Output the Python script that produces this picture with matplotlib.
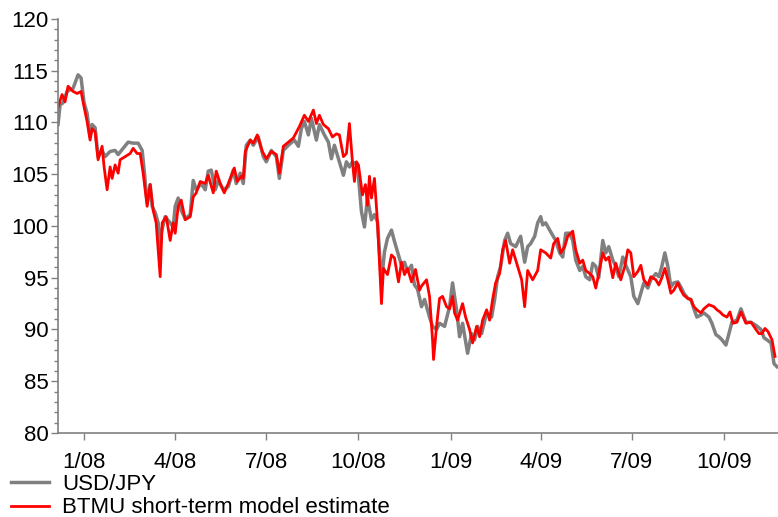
import pandas as pd
import matplotlib
matplotlib.use("Agg")
import matplotlib.pyplot as plt
import matplotlib.dates as mdates
from matplotlib.ticker import MultipleLocator, FuncFormatter

plt.rcParams['font.family'] = ['Liberation Sans', 'DejaVu Sans']

# USD/JPY spot
usdjpy_dates = [
    "2007-12-06", "2007-12-08", "2007-12-11", "2007-12-15", "2007-12-21", "2007-12-26", "2007-12-29",
    "2008-01-01", "2008-01-04", "2008-01-07", "2008-01-09", "2008-01-12", "2008-01-15", "2008-01-19",
    "2008-01-22", "2008-01-27", "2008-02-01", "2008-02-04", "2008-02-09", "2008-02-14", "2008-02-19",
    "2008-02-24", "2008-02-28", "2008-03-01", "2008-03-04", "2008-03-07", "2008-03-09", "2008-03-12",
    "2008-03-15", "2008-03-17", "2008-03-18", "2008-03-22", "2008-03-27", "2008-03-30", "2008-04-01",
    "2008-04-04", "2008-04-07", "2008-04-11", "2008-04-16", "2008-04-19", "2008-04-22", "2008-04-27",
    "2008-05-01", "2008-05-04", "2008-05-07", "2008-05-11", "2008-05-14", "2008-05-19", "2008-05-24",
    "2008-05-29", "2008-06-01", "2008-06-05", "2008-06-08", "2008-06-11", "2008-06-15", "2008-06-18",
    "2008-06-23", "2008-06-28", "2008-07-01", "2008-07-06", "2008-07-11", "2008-07-14", "2008-07-18",
    "2008-07-23", "2008-07-29", "2008-08-02", "2008-08-05", "2008-08-08", "2008-08-12", "2008-08-15",
    "2008-08-20", "2008-08-23", "2008-08-28", "2008-09-01", "2008-09-04", "2008-09-07", "2008-09-11",
    "2008-09-16", "2008-09-19", "2008-09-22", "2008-09-25", "2008-09-30", "2008-10-04", "2008-10-07",
    "2008-10-10", "2008-10-14", "2008-10-17", "2008-10-20", "2008-10-24", "2008-10-27", "2008-10-30",
    "2008-11-03", "2008-11-06", "2008-11-09", "2008-11-13", "2008-11-16", "2008-11-19", "2008-11-23",
    "2008-11-26", "2008-11-29", "2008-12-03", "2008-12-06", "2008-12-11", "2008-12-14", "2008-12-18",
    "2008-12-21", "2008-12-26", "2008-12-31", "2009-01-03", "2009-01-07", "2009-01-10", "2009-01-13",
    "2009-01-18", "2009-01-22", "2009-01-25", "2009-01-28", "2009-02-01", "2009-02-06", "2009-02-11",
    "2009-02-14", "2009-02-17", "2009-02-20", "2009-02-24", "2009-02-27", "2009-03-02", "2009-03-07",
    "2009-03-12", "2009-03-16", "2009-03-19", "2009-03-22", "2009-03-26", "2009-03-29", "2009-04-01",
    "2009-04-03", "2009-04-06", "2009-04-10", "2009-04-13", "2009-04-16", "2009-04-20", "2009-04-23",
    "2009-04-26", "2009-04-30", "2009-05-03", "2009-05-06", "2009-05-10", "2009-05-13", "2009-05-16",
    "2009-05-20", "2009-05-23", "2009-05-26", "2009-05-29", "2009-06-02", "2009-06-05", "2009-06-08",
    "2009-06-12", "2009-06-15", "2009-06-18", "2009-06-22", "2009-06-25", "2009-06-30", "2009-07-03",
    "2009-07-07", "2009-07-10", "2009-07-13", "2009-07-17", "2009-07-20", "2009-07-25", "2009-07-28",
    "2009-07-31", "2009-08-03", "2009-08-06", "2009-08-09", "2009-08-12", "2009-08-16", "2009-08-19",
    "2009-08-22", "2009-08-26", "2009-08-29", "2009-09-01", "2009-09-04", "2009-09-08", "2009-09-11",
    "2009-09-16", "2009-09-19", "2009-09-23", "2009-09-26", "2009-09-29", "2009-10-03", "2009-10-06",
    "2009-10-09", "2009-10-14", "2009-10-18", "2009-10-23", "2009-10-28", "2009-11-02", "2009-11-07",
    "2009-11-10", "2009-11-13", "2009-11-17", "2009-11-20", "2009-11-23",
]
usdjpy = [
    109.8, 111.7, 111.9, 113.0, 113.3, 114.6, 114.3,
    111.9, 110.9, 108.6, 109.8, 109.5, 106.7, 107.3,
    106.7, 107.2, 107.3, 106.9, 107.5, 108.1, 108.0,
    108.0, 107.3, 105.4, 102.2, 104.0, 101.9, 101.3,
    100.3, 97.8, 99.3, 100.9, 100.3, 99.9, 101.9,
    102.7, 101.5, 100.7, 101.1, 104.4, 103.5, 104.1,
    103.5, 105.3, 105.4, 103.5, 104.4, 103.5, 103.8,
    105.4, 104.1, 105.1, 104.1, 107.8, 108.3, 107.8,
    108.6, 106.7, 106.2, 107.3, 106.7, 104.6, 107.3,
    107.8, 108.3, 107.7, 109.4, 110.1, 108.8, 110.4,
    108.3, 109.8, 108.8, 108.1, 106.5, 107.8, 106.5,
    104.9, 106.2, 105.7, 106.2, 105.9, 101.4, 99.9,
    102.7, 100.6, 101.1, 100.4, 94.6, 97.5, 98.8,
    99.6, 98.5, 97.5, 96.2, 96.5, 95.6, 96.2,
    94.3, 93.9, 92.2, 92.9, 91.2, 90.3, 90.0,
    90.6, 90.3, 92.2, 94.5, 91.9, 89.3, 90.6,
    87.7, 89.6, 89.0, 90.3, 89.6, 91.6, 91.2,
    92.9, 95.1, 96.1, 98.6, 99.3, 98.3, 98.0,
    99.0, 96.5, 98.0, 98.3, 99.0, 100.3, 100.9,
    100.1, 100.3, 99.6, 99.1, 98.6, 97.4, 97.0,
    99.3, 99.3, 98.6, 96.7, 95.7, 96.1, 95.1,
    94.8, 96.4, 96.1, 95.0, 98.6, 97.4, 98.0,
    96.7, 96.1, 95.1, 97.0, 96.2, 95.1, 93.2,
    92.5, 93.5, 94.5, 94.0, 94.8, 95.4, 95.1,
    96.1, 97.4, 96.1, 94.1, 94.5, 94.6, 94.1,
    93.5, 93.0, 92.9, 92.0, 91.2, 91.4, 91.6,
    91.2, 90.6, 89.5, 89.3, 89.0, 88.5, 89.6,
    90.7, 90.9, 92.0, 90.7, 90.7, 90.4, 90.0,
    89.2, 89.0, 88.7, 86.7, 86.4,
]

# BTMU short-term model estimate
model_dates = [
    "2007-12-06", "2007-12-10", "2007-12-13", "2007-12-16", "2007-12-21", "2007-12-25", "2007-12-29",
    "2008-01-01", "2008-01-04", "2008-01-07", "2008-01-09", "2008-01-12", "2008-01-15", "2008-01-19",
    "2008-01-21", "2008-01-24", "2008-01-27", "2008-01-29", "2008-02-01", "2008-02-04", "2008-02-06",
    "2008-02-11", "2008-02-16", "2008-02-19", "2008-02-23", "2008-02-26", "2008-02-29", "2008-03-04",
    "2008-03-07", "2008-03-10", "2008-03-13", "2008-03-17", "2008-03-19", "2008-03-23", "2008-03-27",
    "2008-03-30", "2008-04-01", "2008-04-04", "2008-04-07", "2008-04-11", "2008-04-16", "2008-04-19",
    "2008-04-22", "2008-04-26", "2008-05-01", "2008-05-04", "2008-05-09", "2008-05-12", "2008-05-16",
    "2008-05-20", "2008-05-24", "2008-05-30", "2008-06-02", "2008-06-06", "2008-06-08", "2008-06-10",
    "2008-06-15", "2008-06-18", "2008-06-22", "2008-06-27", "2008-07-01", "2008-07-06", "2008-07-11",
    "2008-07-14", "2008-07-18", "2008-07-23", "2008-07-28", "2008-08-03", "2008-08-08", "2008-08-12",
    "2008-08-17", "2008-08-20", "2008-08-23", "2008-08-27", "2008-09-01", "2008-09-05", "2008-09-09",
    "2008-09-12", "2008-09-16", "2008-09-19", "2008-09-22", "2008-09-25", "2008-09-27", "2008-09-29",
    "2008-10-01", "2008-10-05", "2008-10-08", "2008-10-10", "2008-10-12", "2008-10-14", "2008-10-17",
    "2008-10-20", "2008-10-24", "2008-10-26", "2008-10-30", "2008-11-03", "2008-11-06", "2008-11-10",
    "2008-11-13", "2008-11-16", "2008-11-19", "2008-11-23", "2008-11-27", "2008-11-29", "2008-12-01",
    "2008-12-03", "2008-12-08", "2008-12-11", "2008-12-14", "2008-12-15", "2008-12-18", "2008-12-21",
    "2008-12-24", "2008-12-28", "2008-12-31", "2009-01-03", "2009-01-05", "2009-01-08", "2009-01-13",
    "2009-01-16", "2009-01-20", "2009-01-23", "2009-01-27", "2009-01-30", "2009-02-02", "2009-02-06",
    "2009-02-09", "2009-02-12", "2009-02-15", "2009-02-19", "2009-02-22", "2009-02-25", "2009-03-01",
    "2009-03-04", "2009-03-09", "2009-03-13", "2009-03-16", "2009-03-19", "2009-03-24", "2009-03-29",
    "2009-04-01", "2009-04-06", "2009-04-11", "2009-04-14", "2009-04-18", "2009-04-21", "2009-04-25",
    "2009-04-28", "2009-05-03", "2009-05-06", "2009-05-10", "2009-05-13", "2009-05-16", "2009-05-20",
    "2009-05-23", "2009-05-26", "2009-05-29", "2009-06-02", "2009-06-05", "2009-06-08", "2009-06-12",
    "2009-06-15", "2009-06-20", "2009-06-24", "2009-06-27", "2009-06-30", "2009-07-03", "2009-07-07",
    "2009-07-10", "2009-07-13", "2009-07-17", "2009-07-20", "2009-07-25", "2009-07-28", "2009-07-31",
    "2009-08-03", "2009-08-06", "2009-08-09", "2009-08-12", "2009-08-16", "2009-08-19", "2009-08-22",
    "2009-08-26", "2009-08-29", "2009-09-01", "2009-09-04", "2009-09-08", "2009-09-11", "2009-09-16",
    "2009-09-21", "2009-09-24", "2009-09-27", "2009-09-30", "2009-10-04", "2009-10-07", "2009-10-10",
    "2009-10-14", "2009-10-18", "2009-10-23", "2009-10-28", "2009-11-02", "2009-11-05", "2009-11-08",
    "2009-11-11", "2009-11-14", "2009-11-18", "2009-11-21",
]
model = [
    111.5, 112.7, 112.0, 113.5, 113.0, 112.8, 113.0,
    111.5, 110.1, 108.3, 109.4, 109.1, 106.4, 107.7,
    105.7, 103.5, 105.7, 104.6, 105.9, 105.1, 106.4,
    106.7, 107.0, 107.5, 107.0, 107.0, 105.1, 101.9,
    104.0, 101.5, 100.3, 95.1, 100.3, 100.9, 98.6,
    100.3, 99.3, 101.9, 102.5, 100.6, 100.9, 102.8,
    103.2, 104.3, 104.1, 104.9, 103.2, 105.3, 104.1,
    103.2, 104.1, 105.6, 104.3, 104.8, 104.6, 107.2,
    108.3, 108.0, 108.8, 107.2, 106.5, 107.2, 106.9,
    105.1, 107.7, 108.1, 108.5, 109.6, 110.7, 110.1,
    111.2, 109.9, 110.7, 109.8, 109.4, 108.6, 108.9,
    108.8, 106.7, 107.0, 109.9, 106.2, 104.3, 106.2,
    105.9, 103.0, 104.0, 102.0, 104.8, 102.7, 104.6,
    100.4, 92.5, 95.9, 95.3, 97.2, 96.9, 94.6,
    96.5, 95.3, 95.9, 94.6, 95.8, 94.8, 93.8,
    94.2, 94.8, 93.2, 89.0, 87.1, 90.3, 93.0,
    93.2, 92.2, 92.0, 93.2, 91.6, 90.9, 92.5,
    91.2, 90.0, 88.7, 90.3, 89.3, 90.9, 91.9,
    90.9, 92.9, 94.5, 95.4, 97.7, 98.6, 96.4,
    97.7, 96.1, 94.8, 92.2, 95.7, 94.8, 95.7,
    97.7, 97.4, 96.9, 98.3, 98.8, 97.4, 98.0,
    99.0, 99.5, 97.7, 96.4, 96.7, 95.7, 95.4,
    95.1, 94.0, 95.4, 97.4, 96.7, 97.0, 95.0,
    96.4, 94.8, 96.1, 97.7, 97.4, 95.1, 95.6,
    96.2, 94.8, 94.3, 95.1, 94.8, 94.3, 95.0,
    95.9, 94.8, 93.5, 93.8, 94.5, 93.8, 93.3,
    93.0, 92.9, 92.2, 91.9, 91.6, 92.0, 92.4,
    92.2, 91.9, 91.7, 91.4, 91.2, 91.7, 90.6,
    90.7, 91.7, 90.6, 90.7, 90.0, 89.6, 89.6,
    90.1, 89.8, 89.0, 87.4,
]

spot = pd.Series(usdjpy, index=pd.to_datetime(usdjpy_dates))
est = pd.Series(model, index=pd.to_datetime(model_dates))

fig = plt.figure(figsize=(7.78, 5.17), dpi=100)
ax = fig.add_axes([0.0746, 0.1625, 0.9254, 0.8008])

ax.plot(spot.index, spot.values, color='#808080', lw=2.5, label='USD/JPY')
ax.plot(est.index, est.values, color='#ff0000', lw=2.0, label='BTMU short-term model estimate')

ax.set_ylim(80, 120)
ax.set_xlim(pd.Timestamp('2007-12-06'), pd.Timestamp('2009-11-24'))
ax.yaxis.set_major_locator(MultipleLocator(5))
ax.yaxis.set_minor_locator(MultipleLocator(1))
ax.xaxis.set_major_locator(mdates.MonthLocator(bymonth=[1, 4, 7, 10]))
ax.xaxis.set_major_formatter(FuncFormatter(
    lambda x, pos: f"{mdates.num2date(x).month}/{mdates.num2date(x).year % 100:02d}"))

for side in ['top', 'right']:
    ax.spines[side].set_visible(False)
for side in ['left', 'bottom']:
    ax.spines[side].set_color('#808080')
    ax.spines[side].set_linewidth(1.2)

ax.tick_params(axis='both', which='major', colors='#808080', labelcolor='black',
               labelsize=16, length=5, width=1)
ax.tick_params(axis='y', which='minor', colors='#808080', length=3, width=1)
ax.tick_params(axis='y', which='major', pad=2)
ax.tick_params(axis='x', which='major', pad=9)

fig.legend(loc='upper left', bbox_to_anchor=(0.0141, 0.0837), frameon=False,
           fontsize=16, handlelength=1.7, handletextpad=0.6, labelspacing=0.12,
           borderaxespad=0, borderpad=0)

fig.savefig('out.png', dpi=100)
